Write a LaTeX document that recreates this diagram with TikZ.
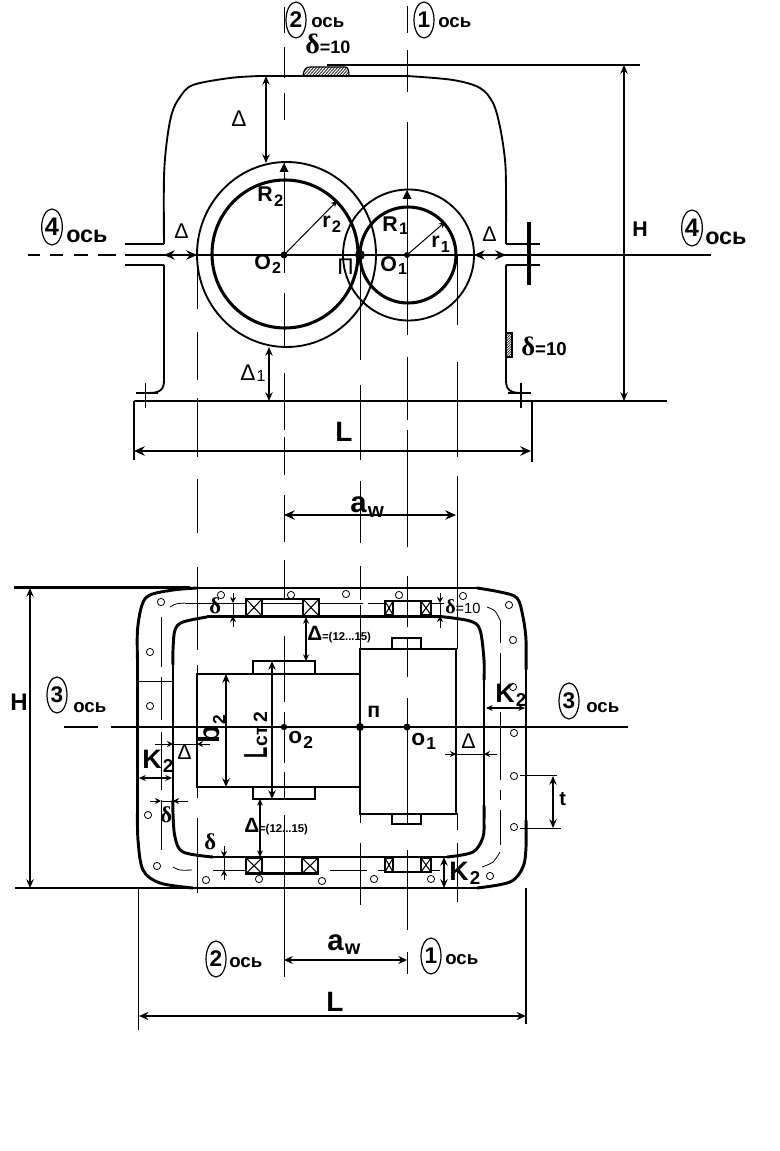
\documentclass[tikz,border=0pt]{standalone}
\usepackage{fontspec}
\usepackage{graphicx}
\usetikzlibrary{arrows.meta,shapes.geometric}
\setmainfont{Liberation Sans}
\newfontfamily\serifd{Liberation Serif}
\newcommand{\subtxt}[4]{#1\kern1pt\raisebox{-#4pt}{\fontsize{#3}{#3}\selectfont #2}}
\newcommand{\dlt}{{\serifd\bfseries δ}}
\tikzset{
  x=.75pt,y=-.75pt,
  thinl/.style={line width=.75pt,black},
  medl/.style={line width=1.4pt,black},
  thickl/.style={line width=2.3pt,black},
  heavy/.style={line width=2.2pt,black,line join=round},
  dim/.style={line width=1.3pt,{Stealth[length=8pt,width=7pt]}-{Stealth[length=8pt,width=7pt]}},
  dimb/.style={line width=1.1pt,{Stealth[length=6.5pt,width=5.5pt]}-{Stealth[length=6.5pt,width=5.5pt]}},
  dims/.style={line width=.9pt,{Stealth[length=5pt,width=4.5pt]}-{Stealth[length=5pt,width=4.5pt]}},
  tick/.style={line width=.75pt,-{Stealth[length=4.5pt,width=4.5pt]}},
  lab/.style={anchor=base west,inner sep=0pt,font=\bfseries\fontsize{16}{16}\selectfont},
  labr/.style={anchor=base west,inner sep=0pt,font=\fontsize{16}{16}\selectfont},
  osw/.style={anchor=base west,inner sep=0pt,font=\bfseries\fontsize{14}{14}\selectfont},
  oswb/.style={anchor=base west,inner sep=0pt,font=\bfseries\fontsize{17.5}{17.5}\selectfont},
  circ/.style={draw,line width=.9pt,ellipse,inner sep=0pt,minimum width=15pt,minimum height=27pt,font=\bfseries\fontsize{17}{17}\selectfont},
  bolt/.style={draw,line width=.6pt,circle,inner sep=0pt,minimum size=5.4pt,fill=white},
}
\newcommand{\brg}[4]{\draw[line width=1.7pt] (#1,#3) rectangle (#2,#4); \draw[line width=.8pt] (#1,#3)--(#2,#4) (#1,#4)--(#2,#3);}
\newcommand{\axseg}[2]{\foreach \a/\b in {#2} {\draw[thinl] (#1,\a)--(#1,\b);}}
\begin{document}
\begin{tikzpicture}
\useasboundingbox (0,0) rectangle (780,1151);
\fill[white] (0,0) rectangle (780,1151);

% ---- axis / extension segments
\axseg{197}{255/309,332/380,398/457,479/533,567/650,665/674,788/798,818/893}
\axseg{284}{7/33,47/78,93/120,162/273,293/348,373/430,437/475,495/542,560/599,636/702,712/763,772/800,815/977}
\axseg{360}{255/360,385/460,481/543,566/600,605/649,813/823,843/905}
\axseg{407}{6/33,50/92,122/335,357/420,430/547,576/627,638/677,698/825,850/930,952/974}
\axseg{457}{255/325,362/457,476/649,813/830,843/902}

% ---- top view: housing
\draw[medl] plot[smooth,tension=.55] coordinates {(164,244)(164,177)(167,140)(172,113)(180,97)(193,85)(230,78)(260,76)};
\draw[medl] (260,76)--(407,76);
\draw[medl] plot[smooth,tension=.55] coordinates {(407,76)(453,80)(480,88)(493,103)(500,127)(505,160)(506,190)(506,244)};
\draw[medl] (125,244)--(164,244) (125,265)--(164,265);
\draw[medl] (164,265)--(164,380) .. controls (164,390) and (160,393) .. (148,393);
\draw[medl] (506,244)--(540,244) (506,265)--(540,265);
\draw[medl] (506,265)--(506,380) .. controls (506,390) and (510,393) .. (522,393);
\draw[line width=1.2pt] (145.5,383)--(145.5,408) (136,393)--(158,393);
\draw[line width=1.2pt] (521,383)--(521,408) (508,393)--(531,393);
\draw[line width=3pt] (529,222)--(529,285);
\draw[medl] (134,401)--(667,401);
\draw[medl] (134,401)--(134,460) (532,401)--(532,462);
\draw[medl] (327,65)--(640,65);
% rib
\begin{scope}
\clip (303,76) .. controls (304,69) and (306,67) .. (310,67) -- (345,67) .. controls (348,67) and (349,70) .. (349,76) -- cycle;
\foreach \i in {0,3,...,60} {\draw[line width=.5pt] (296+\i,77)--(307+\i,65);}
\end{scope}
\draw[line width=.9pt] (303,76) .. controls (304,69) and (306,67) .. (310,67) -- (345,67) .. controls (348,67) and (349,70) .. (349,76);
\begin{scope}
\clip (506,333) rectangle (512,357);
\foreach \i in {0,2.5,...,30} {\draw[line width=.4pt] (504,336+\i)--(514,326+\i);}
\end{scope}
\draw[line width=.8pt] (506,333) rectangle (512,357);

% circles
\draw[medl] (286.5,254.5) ellipse [x radius=89.5*.75pt,y radius=92.5*.75pt];
\draw[thickl] (285,254) ellipse [x radius=73*.75pt,y radius=74*.75pt];
\draw[medl] (408.5,255) circle [radius=65.5*.75pt];
\draw[thickl] (408,255) circle [radius=48*.75pt];

% centre line
\draw[medl] (125,255)--(711,255);
\foreach \a/\b in {28/40,50/63,74/88,98/116} {\draw[medl] (\a,255)--(\b,255);}
\fill (284,255) circle [radius=3.5*.75pt];
\fill (407,255) circle [radius=3*.75pt];
\fill (360,255) circle [radius=5*.75pt];

% triangles on axes
\fill (284,163)--(288.5,172)--(279.5,172)--cycle;
\fill (407,190)--(411.5,199)--(402.5,199)--cycle;
\coordinate (ctwo) at (284,255); \coordinate (rtwo) at (337,201);
\coordinate (cone) at (407,255); \coordinate (rone) at (445,222);
\draw[tick] (ctwo)--(rtwo);
\draw[tick] (cone)--(rone);

% top-view dimensions
\draw[dimb] (266,76)--(266,163);
\draw[dimb] (269,347)--(269,401);
\draw[dim] (164,255)--(197,255);
\draw[dim] (474,255)--(506,255);
\draw[dim] (134,451)--(531,451);
\draw[dimb] (624,65)--(624,401);
\draw[dim] (284,515)--(456,515);

% top-view labels
\node[circ] (e2t) at (296,20) {2};
\node[osw] (o2t) at (311,28) {ось};
\node[circ] (e1t) at (424,20) {1};
\node[osw] (o1t) at (438,28) {ось};
\node[lab] (d10t) at (305,54) {{\fontsize{21}{21}\selectfont\dlt}\fontsize{13.5}{13.5}\selectfont =10};
\node[labr,font=\fontsize{17}{17}\selectfont] (delA) at (231,127) {Δ};
\node[lab] (R2) at (257,202) {\subtxt{R}{2}{12.5}{3.75}};
\node[lab] (R1) at (382,232) {\subtxt{R}{1}{12.5}{2.25}};
\node[lab] (r2) at (322,228) {\subtxt{r}{2}{12.5}{3.75}};
\node[lab] (r1) at (431,248) {\subtxt{r}{1}{12}{3.75}};
\node[lab] (O2t) at (254,270) {\subtxt{O}{2}{12}{3}};
\node[lab] (O1t) at (380,272) {\subtxt{O}{1}{12}{2.25}};
\node[labr,font=\fontsize{17}{17}\selectfont] (pit) at (337,275) {П};
\node[labr] (delL) at (174,239) {Δ};
\node[labr] (delR) at (482,242) {Δ};
\node[labr,font=\fontsize{17}{17}\selectfont] (del1) at (240,380) {\subtxt{Δ}{1}{12}{1.5}};
\node[lab] (Ht) at (632,237) {H};
\node[lab,font=\bfseries\fontsize{21}{21}\selectfont] (Lt) at (335,441) {L};
\node[circ,font=\bfseries\fontsize{19}{19}\selectfont,minimum width=15.5pt] (e4l) at (52,227) {4};
\node[oswb] (o4l) at (66,243) {ось};
\node[circ,font=\bfseries\fontsize{19}{19}\selectfont,minimum width=15.5pt] (e4r) at (692,228) {4};
\node[oswb] (o4r) at (705,245) {ось};
\node[lab] (d10s) at (521,355) {{\fontsize{20}{20}\selectfont\dlt}\fontsize{14}{14}\selectfont =10};
\node[lab,font=\bfseries\fontsize{22}{22}\selectfont] (awt) at (350,512) {\subtxt{a}{w}{15.5}{3.75}};

% ---- plan view: contours
\draw[line width=1.6pt] (14,587.5)--(190,587.5);
\draw[line width=1.6pt] (15,888)--(190,888);
\draw[heavy] plot[smooth,tension=.55] coordinates {(137.5,660)(137.5,630)(142,605)(150,595)(173,590)(197,588)};
\draw[heavy] (197,588)--(477,588);
\draw[heavy] plot[smooth,tension=.55] coordinates {(477,588)(500,592)(517,598)(523,617)(526,640)(526,670)};
\draw[heavy] (137.5,660)--(137.5,810);
\draw[heavy] (526,670)--(526,820);
\draw[heavy] plot[smooth,tension=.55] coordinates {(137.5,810)(138,840)(143,870)(160,883)(193,888)};
\draw[heavy] (193,888)--(477,888);
\draw[heavy] plot[smooth,tension=.55] coordinates {(477,888)(510,882)(523,867)(526,847)(526,820)};

\draw[heavy] plot[smooth,tension=.55] coordinates {(173,665)(173,650)(175,630)(183,622)(207,617)};
\draw[heavy] (207,616.5)--(440,616.5);
\draw[heavy] plot[smooth,tension=.55] coordinates {(440,616.5)(470,621)(480,630)(484,660)(484,680)};
\draw[heavy] (173,665)--(173,800);
\draw[heavy] (484,680)--(484,805);
\draw[heavy] plot[smooth,tension=.55] coordinates {(173,800)(173,813)(175,837)(183,852)(213,857)};
\draw[heavy] (213,857)--(447,857);
\draw[heavy] plot[smooth,tension=.55] coordinates {(447,857)(473,852)(483,837)(484,820)(484,805)};

% bolt-centre line (thin, broken)
\draw[line width=.6pt] plot[smooth] coordinates {(170,607)(176,604)(185,603)};
\draw[line width=.6pt] plot[smooth] coordinates {(487,607)(495,611)(500,620)};
\draw[line width=.6pt] plot[smooth] coordinates {(173,867)(180,870)(192,870)};
\draw[line width=.6pt] plot[smooth] coordinates {(482,867)(493,862)(500,852)};
\foreach \a/\b in {185/246,262/303,319/363,368/384,431/442} {\draw[line width=.6pt] (\a,603)--(\b,603);}
\foreach \a/\b in {213/246,378/384,431/440,330/367} {\draw[line width=.6pt] (\a,870)--(\b,870);}
\foreach \a/\b in {617/667,677/720,732/790,800/850} {\draw[line width=.6pt] (161,\a)--(161,\b);}
\foreach \a/\b in {620/643,653/700,712/780,790/800,810/845} {\draw[line width=.6pt] (500,\a)--(500,\b);}
\draw[thinl] (138,681)--(173,681);

% thin extension lines
\draw[medl] (138.5,888)--(138.5,1030);
\draw[medl] (526,888)--(526,1024);

% bearings
\draw[line width=1.6pt] (246,599)--(319,599);
\brg{246}{262}{599}{616}
\brg{303}{319}{599}{616}
\draw[line width=1.6pt] (384,601)--(431,601);
\brg{385}{393}{601}{615}
\brg{421}{431}{601}{615}
\draw[line width=1.6pt] (246,873.5)--(318,873.5);
\brg{246}{262}{858}{873.5}
\brg{302}{318}{858}{873.5}
\draw[line width=1.6pt] (384,872)--(431,872);
\brg{385}{393}{858}{872}
\brg{421}{431}{858}{872}

% gears
\draw[line width=1.4pt] (197,674) rectangle (360,787);
\draw[line width=1.4pt] (253,661) rectangle (315,674);
\draw[line width=1.4pt] (253,787) rectangle (315,799);
\draw[line width=1.5pt,fill=white] (360,649) rectangle (456,814);
\draw[line width=1.2pt] (392,649)--(392,638)--(421,638)--(421,649);
\draw[line width=1.2pt] (392,814)--(392,824)--(421,824)--(421,814);
\axseg{407}{649/677,698/814}

% plan centre line
\draw[medl] (64,727)--(98,727) (111,727)--(628,727);
\fill (284,727) circle [radius=3.2*.75pt];
\fill (407,727) circle [radius=3.5*.75pt];
\fill (360,727) circle [radius=4*.75pt];

% bolts
\foreach \p [count=\n] in {(161,602),(221,595),(291,595),(346,594),(399,595),(463,596),(509,605),(513,640),(513,687),(514,733),(514,776),(514,827),(490,876),(431,879),(374,879),(322,881),(259,879),(206,880),(157,866),(148,815),(150,706),(150,652)}
  {\node[bolt] (b\n) at \p {};}

% plan dimensions
\draw[dimb] (30,588)--(30,888);
\draw[dimb] (226,674)--(226,787);
\draw[dimb] (272,661)--(272,799);
\draw[dims] (306,617)--(306,661);
\draw[dims] (260,799)--(260,857);
\draw[dim,{Stealth[length=6.5pt,width=6pt]}-{Stealth[length=6.5pt,width=6pt]}] (284,960)--(407,960);
\draw[dim,{Stealth[length=7pt,width=6pt]}-{Stealth[length=7pt,width=6pt]}] (139,1016)--(526,1016);
\draw[dims] (486,708)--(525,708);
\draw[dims] (139,778)--(172,778);
\draw[dimb] (553,776)--(553,828);
\draw[thinl] (520,775)--(557,775) (520,828)--(561,828);
\draw[dimb] (444,857)--(444,888);

% outside-arrow dimensions
\coordinate (a1) at (233,593); \coordinate (a2) at (233,603); \coordinate (a3) at (233,627); \coordinate (a4) at (233,616);
\draw[tick] (a1)--(a2); \draw[tick] (a3)--(a4); \draw[thinl] (a2)--(a4) (224,603)--(245,603);
\coordinate (a1) at (440,593); \coordinate (a2) at (440,603); \coordinate (a3) at (440,628); \coordinate (a4) at (440,616);
\draw[tick] (a1)--(a2); \draw[tick] (a3)--(a4); \draw[thinl] (a2)--(a4) (433,603)--(444,603);
\coordinate (a1) at (224,846); \coordinate (a2) at (224,857); \coordinate (a3) at (224,880); \coordinate (a4) at (224,870);
\draw[tick] (a1)--(a2); \draw[tick] (a3)--(a4); \draw[thinl] (a2)--(a4);
\coordinate (a1) at (155,744); \coordinate (a2) at (173,744); \coordinate (a3) at (210,744); \coordinate (a4) at (197,744);
\draw[tick] (a1)--(a2); \draw[tick] (a3)--(a4); \draw[thinl] (a2)--(a4);
\coordinate (a1) at (150,801); \coordinate (a2) at (161,801); \coordinate (a3) at (188,801); \coordinate (a4) at (173,801);
\draw[tick] (a1)--(a2); \draw[tick] (a3)--(a4); \draw[thinl] (a2)--(a4);
\coordinate (a1) at (445,754); \coordinate (a2) at (456,754); \coordinate (a3) at (497,754); \coordinate (a4) at (484,754);
\draw[tick] (a1)--(a2); \draw[tick] (a3)--(a4); \draw[thinl] (a2)--(a4);

% plan labels
\node[lab,font=\bfseries\fontsize{18}{18}\selectfont] (Hp) at (10,710) {H};
\node[circ] (e3l) at (57,695) {3};
\node[osw] (o3l) at (73,712) {ось};
\node[circ] (e3r) at (569,701) {3};
\node[osw] (o3r) at (586,712) {ось};
\node[lab,font=\bfseries\fontsize{22}{22}\selectfont,anchor=base west,rotate=90] (b2p) at (219,744) {\subtxt{b}{2}{13}{4.5}};
\node[lab,font=\bfseries\fontsize{14.5}{14.5}\selectfont,anchor=base west,rotate=90] (Lp) at (267,759) {{\fontsize{25}{25}\selectfont\scalebox{.55}[1]{L}}\kern1pt ст\,2};
\node[lab,font=\bfseries\fontsize{17}{17}\selectfont] (O2p) at (288,743.5) {\subtxt{o}{2}{13}{3.5}};
\node[lab,font=\bfseries\fontsize{17}{17}\selectfont] (O1p) at (411,745) {\subtxt{o}{1}{13}{3.5}};
\node[lab] (pip) at (367,717) {п};
\node[lab,font=\fontsize{15.5}{15.5}\selectfont\bfseries] (del12a) at (307,640) {Δ{\fontsize{8.5}{8.5}\selectfont =(12...15)}};
\node[lab,font=\fontsize{15.5}{15.5}\selectfont\bfseries] (del12b) at (244,832) {Δ{\fontsize{8.5}{8.5}\selectfont =(12...15)}};
\node[labr] (delD) at (177,759) {Δ};
\node[labr] (delE) at (461,748) {Δ};
\node[lab,font=\fontsize{17}{17}\selectfont] (d1) at (209,613) {\dlt};
\node[lab,font=\fontsize{17}{17}\selectfont] (d2) at (204,849) {\dlt};
\node[lab,font=\fontsize{17}{17}\selectfont] (d3) at (160,822) {\dlt};
\node[lab,font=\fontsize{15}{15}\selectfont] (d4) at (445,613) {\dlt\fontsize{11}{11}\selectfont =10};
\node[labr,font=\fontsize{20}{20}\selectfont\bfseries] (Kr) at (495,702) {\subtxt{K}{2}{14}{3.5}};
\node[labr,font=\fontsize{20}{20}\selectfont\bfseries] (Kl) at (142,768) {\subtxt{K}{2}{14}{3.5}};
\node[labr,font=\fontsize{20}{20}\selectfont\bfseries] (Kb) at (449,880) {\subtxt{K}{2}{14}{3.5}};
\node[lab,font=\bfseries\fontsize{15}{15}\selectfont] (tl) at (559,805) {t};
\node[lab,font=\bfseries\fontsize{22}{22}\selectfont] (awp) at (327,950) {\subtxt{a}{w}{15}{3.5}};
\node[circ] (e2b) at (216,959) {2};
\node[osw] (o2b) at (229,967) {ось};
\node[circ] (e1b) at (431,956) {1};
\node[osw] (o1b) at (445,964) {ось};
\node[lab,font=\bfseries\fontsize{21}{21}\selectfont] (Lb) at (326,1011) {L};
\end{tikzpicture}
\end{document}
